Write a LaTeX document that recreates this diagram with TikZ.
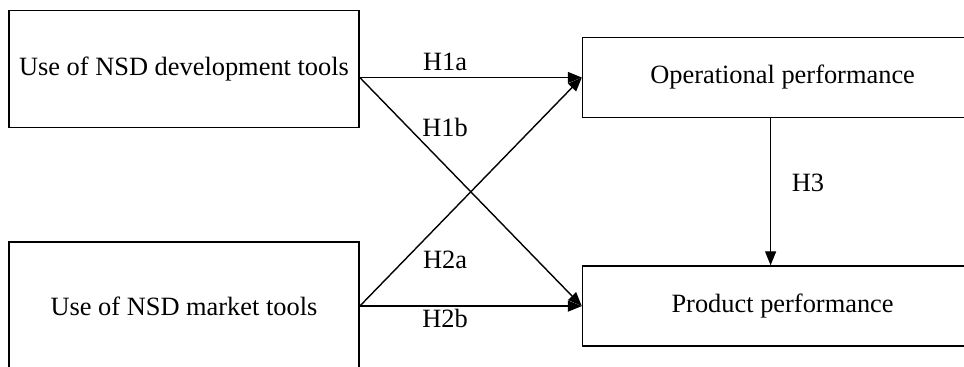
\documentclass[tikz,border=0pt]{standalone}
\usepackage{fontspec}
\setmainfont{Liberation Serif}
\usetikzlibrary{arrows.meta,positioning}

\begin{document}
\begin{tikzpicture}[x=0.5pt,y=-0.5pt]
            % Styles
            \tikzstyle{srcbox}=[draw, line width=0.8pt, rectangle, minimum width=175pt, text centered, inner sep=0pt]
            \tikzstyle{perfbox}=[draw, line width=0.8pt, rectangle, minimum height=40pt, minimum width=200pt, text centered, inner sep=0pt]
            \tikzstyle{hyp}=[inner sep=0pt]
            \tikzstyle{arrow}=[-{Triangle[length=7pt,width=5.5pt]}, line width=0.7pt]
            \tikzset{every node/.style={font=\fontsize{13.2}{15.8}\selectfont}}

            \clip (0,0) rectangle (964,367);

            % Nodes
            \node[srcbox, minimum height=58.5pt] (dev) at (184,69) {Use of NSD development tools};
            \node[srcbox, minimum height=64pt, below=56.5pt of dev] (mkt) {Use of NSD market tools};
            \node[perfbox, anchor=north west, below right=13.5pt and 111pt of dev.north east] (ops) {Operational performance};
            \node[perfbox, below=73.5pt of ops] (prod) {Product performance};

            % Labels
            \node[hyp] (h1a) at (445,62) {H1a};
            \node[hyp] (h1b) at (445,127) {H1b};
            \node[hyp] (h2a) at (445,260) {H2a};
            \node[hyp] (h2b) at (445,318) {H2b};
            \node[hyp] (h3) at (808,183) {H3};

            % Arrows
            \draw[arrow] (dev.east |- ops.west) -- (ops.west);
            \draw[arrow] (dev.east |- ops.west) -- (prod.west);
            \draw[arrow] (mkt.east) -- (ops.west);
            \draw[arrow] (mkt.east) -- (prod.west);
            \draw[arrow] ([xshift=-6pt]ops.south) -- ([xshift=-6pt]prod.north);
      \end{tikzpicture}
\end{document}
